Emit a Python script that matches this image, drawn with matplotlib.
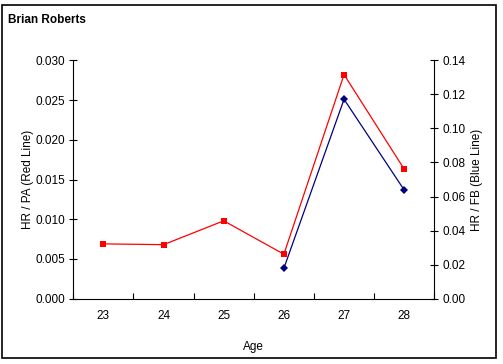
import matplotlib
matplotlib.use("Agg")
import matplotlib.pyplot as plt
from matplotlib.patches import Rectangle

ages = ["23", "24", "25", "26", "27", "28"]
hr_pa = [0.0069, 0.0068, 0.0098, 0.0056, 0.0282, 0.0163]
fb_ages = ["26", "27", "28"]
hr_fb = [0.0179, 0.1171, 0.0638]

left_ticks = [0.000, 0.005, 0.010, 0.015, 0.020, 0.025, 0.030]
right_ticks = [0.00, 0.02, 0.04, 0.06, 0.08, 0.10, 0.12, 0.14]

plt.rcParams['font.family'] = ['Liberation Sans', 'DejaVu Sans']
W, H = 503, 364
fig = plt.figure(figsize=(W / 100, H / 100), dpi=100)

# outer frame
fig.patches.append(Rectangle((2 / W, 1 - 358 / H), 494 / W, 353 / H,
                             transform=fig.transFigure, fill=False,
                             edgecolor='black', linewidth=1.2))

l, r, t, b = 73.3, 434.3, 60.3, 298.7
ax = fig.add_axes([l / W, 1 - b / H, (r - l) / W, (b - t) / H])
ax2 = ax.twinx()

x = list(range(len(ages)))
xfb = [ages.index(a) for a in fb_ages]

ax.plot(x, hr_pa, color='#FF0000', linewidth=0.9, marker='s', markersize=5,
        markeredgewidth=0, zorder=3)
ax2.plot(xfb, hr_fb, color='#000080', linewidth=0.9, marker='D', markersize=4.5,
         markeredgewidth=0, zorder=3)

ax.set_xlim(-0.5, len(ages) - 0.5)
ax.set_ylim(0, 0.030)
ax2.set_ylim(0, 0.14)

fs = 8.5
ax.set_xticks([i - 0.5 for i in range(len(ages) + 1)])
ax.set_xticklabels([])
ax.set_xticks(x, minor=True)
ax.set_xticklabels(ages, minor=True)
ax.tick_params(axis='x', which='major', direction='in', length=4, width=0.8)
ax.tick_params(axis='x', which='minor', length=0, pad=8, labelsize=fs)

ax.set_yticks(left_ticks)
ax.set_yticklabels([f"{v:.3f}" for v in left_ticks])
ax.tick_params(axis='y', direction='inout', length=6, width=0.8, labelsize=fs, pad=3)
ax2.set_yticks(right_ticks)
ax2.set_yticklabels([f"{v:.2f}" for v in right_ticks])
ax2.tick_params(axis='y', direction='inout', length=6, width=0.8, labelsize=fs, pad=3)

for a in (ax, ax2):
    a.spines['top'].set_visible(False)
    a.set_facecolor('none')
ax.spines['right'].set_visible(False)
ax2.spines['left'].set_visible(False)
ax2.spines['bottom'].set_visible(False)

ax.set_ylabel("HR / PA (Red Line)", fontsize=fs, labelpad=1)
ax2.set_ylabel("HR / FB (Blue Line)", fontsize=fs, labelpad=4)
ax.set_xlabel("Age", fontsize=fs, labelpad=14)

fig.text(8 / W, 1 - 20 / H, "Brian Roberts", fontsize=fs, fontweight='bold',
         ha='left', va='center')

fig.savefig("out.png", dpi=100)
